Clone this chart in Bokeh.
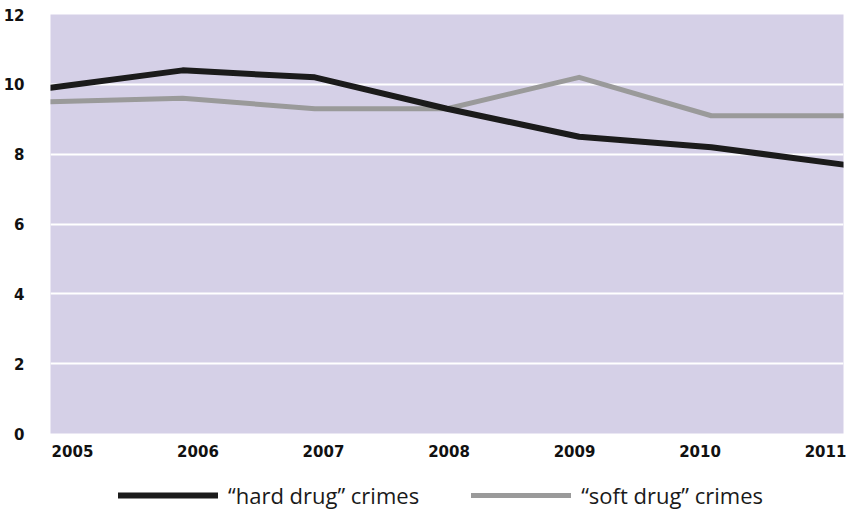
from bokeh.plotting import figure
from bokeh.layouts import column
from bokeh.models import (Range1d, LinearAxis, FixedTicker, Legend, LegendItem)
from bokeh.embed import file_html
from bokeh.resources import INLINE

# Drug crime rates by year
years = [2005, 2006, 2007, 2008, 2009, 2010, 2011]
hard_drug = [9.9, 10.4, 10.2, 9.3, 8.5, 8.2, 7.7]
soft_drug = [9.5, 9.6, 9.3, 9.3, 10.2, 9.1, 9.1]
y_ticks = [0, 2, 4, 6, 8, 10, 12]
series_labels = ["\u201chard drug\u201d crimes", "\u201csoft drug\u201d crimes"]

BG = "#d5d0e7"
HARD = "#1b1b1b"
SOFT = "#9a9a9a"
TICK_FONT = "DejaVu Sans"
HARD_STYLE = dict(line_color=HARD, line_width=6, line_join="round", line_cap="round")
SOFT_STYLE = dict(line_color=SOFT, line_width=5, line_join="round", line_cap="round")

p = figure(width=846, height=470, output_backend="svg", toolbar_location=None,
           x_range=Range1d(years[0], years[-1]), y_range=Range1d(0, 12),
           min_border_left=50, min_border_right=3, min_border_top=14,
           min_border_bottom=37)
p.background_fill_color = BG
p.border_fill_color = "white"
p.outline_line_color = None

# grid
p.xgrid.visible = False
p.ygrid.ticker = FixedTicker(ticks=y_ticks)
p.ygrid.grid_line_color = "white"
p.ygrid.grid_line_width = 2

# y axis
p.yaxis.ticker = FixedTicker(ticks=y_ticks)
p.yaxis.axis_line_color = None
p.yaxis.major_tick_line_color = None
p.yaxis.minor_tick_line_color = None
p.yaxis.major_label_standoff = 20
p.yaxis.major_label_text_font = TICK_FONT
p.yaxis.major_label_text_font_style = "bold"
p.yaxis.major_label_text_font_size = "15px"
p.yaxis.major_label_text_color = "#111111"

# year labels sit on their own slightly wider scale beneath the frame
p.xaxis.visible = False
p.extra_x_ranges = {"years": Range1d(2004.825, 2011.143)}
year_axis = LinearAxis(x_range_name="years", ticker=FixedTicker(ticks=years))
year_axis.axis_line_color = None
year_axis.major_tick_line_color = None
year_axis.minor_tick_line_color = None
year_axis.major_label_standoff = 5
year_axis.major_label_text_font = TICK_FONT
year_axis.major_label_text_font_style = "bold"
year_axis.major_label_text_font_size = "15px"
year_axis.major_label_text_color = "#111111"
p.add_layout(year_axis, "below")

r_soft = p.line(years, soft_drug, **SOFT_STYLE)
r_hard = p.line(years, hard_drug, **HARD_STYLE)

# legend strip underneath the chart; its key lines carry a single point each,
# which lies outside the strip's ranges, so only the legend keys show
leg = figure(width=846, height=43, output_backend="svg", toolbar_location=None,
             x_range=Range1d(0, 1), y_range=Range1d(0, 1),
             x_axis_location=None, y_axis_location=None,
             min_border_left=0, min_border_right=0, min_border_top=0,
             min_border_bottom=0)
leg.grid.visible = False
leg.outline_line_color = None
leg.background_fill_color = "white"
k_hard = leg.line(years[:1], hard_drug[:1], **HARD_STYLE)
k_soft = leg.line(years[:1], soft_drug[:1], **SOFT_STYLE)
legend = Legend(items=[LegendItem(label=series_labels[0], renderers=[k_hard]),
                       LegendItem(label=series_labels[1], renderers=[k_soft])],
                orientation="horizontal", location=(68, 3),
                glyph_width=100, glyph_height=20, label_standoff=10,
                spacing=52, padding=0, margin=0,
                label_text_font="Open Sans", label_text_font_size="22px",
                label_text_color="#1a1a1a",
                border_line_color=None, background_fill_alpha=0)
leg.add_layout(legend, "center")

open("out.html", "w").write(file_html(column(p, leg, spacing=0), INLINE))
